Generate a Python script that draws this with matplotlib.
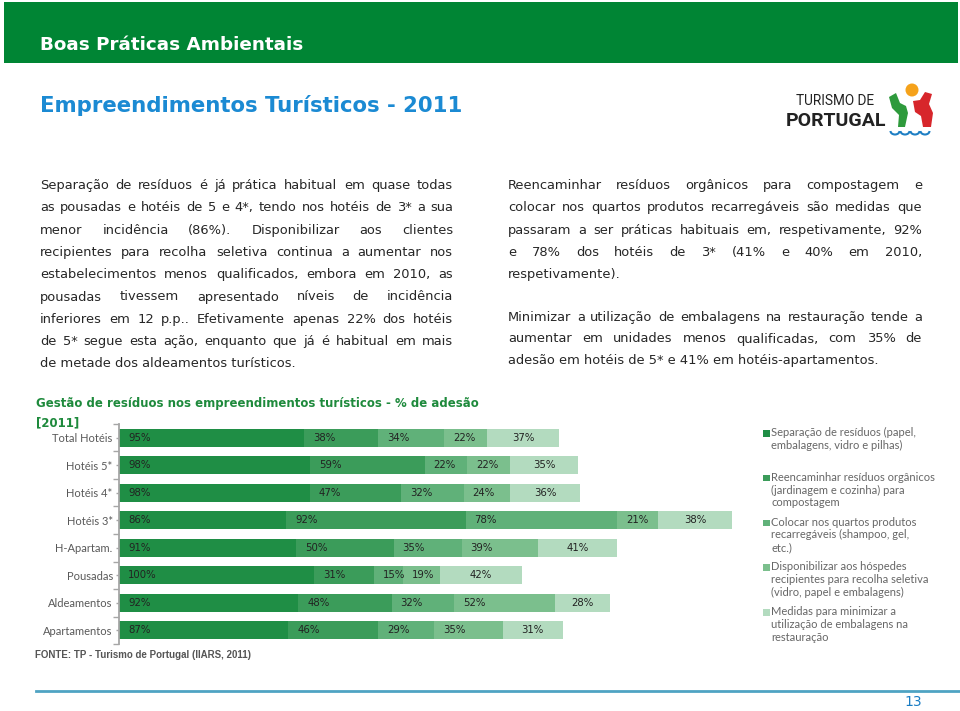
import matplotlib
matplotlib.use("Agg")
import matplotlib.pyplot as plt
import numpy as np
from matplotlib.transforms import Affine2D
from matplotlib.patches import Rectangle, Polygon, Circle, Arc
from matplotlib.lines import Line2D

# dados
categorias = ["Total Hotéis", "Hotéis 5*", "Hotéis 4*", "Hotéis 3*",
              "H-Apartam.", "Pousadas", "Aldeamentos", "Apartamentos"]
separacao = [95, 98, 98, 86, 91, 100, 92, 87]
compostagem = [38, 59, 47, 92, 50, 31, 48, 46]
recarregaveis = [34, 22, 32, 78, 35, 15, 32, 29]
recipientes = [22, 22, 24, 21, 39, 19, 52, 35]
embalagens = [37, 35, 36, 38, 41, 42, 28, 31]

legenda = [
    "Separação de resíduos (papel,\nembalagens, vidro e pilhas)",
    "Reencaminhar resíduos orgânicos\n(jardinagem e cozinha) para\ncompostagem",
    "Colocar nos quartos produtos\nrecarregáveis (shampoo, gel,\netc.)",
    "Disponibilizar aos hóspedes\nrecipientes para recolha seletiva\n(vidro, papel e embalagens)",
    "Medidas para minimizar a\nutilização de embalagens na\nrestauração",
]
cores = ["#1f8e45", "#3b9c5a", "#60b179", "#7bbf8d", "#b3dbbf"]

texto_esq = [
    "Separação de resíduos é já prática habitual em quase todas",
    "as pousadas e hotéis de 5 e 4*, tendo nos hotéis de 3* a sua",
    "menor incidência (86%). Disponibilizar aos clientes",
    "recipientes para recolha seletiva continua a aumentar nos",
    "estabelecimentos menos qualificados, embora em 2010, as",
    "pousadas tivessem apresentado níveis de incidência",
    "inferiores em 12 p.p.. Efetivamente apenas 22% dos hotéis",
    "de 5* segue esta ação, enquanto que já é habitual em mais",
    "de metade dos aldeamentos turísticos.",
]
texto_dir1 = [
    "Reencaminhar resíduos orgânicos para compostagem e",
    "colocar nos quartos produtos recarregáveis são medidas que",
    "passaram a ser práticas habituais em, respetivamente, 92%",
    "e 78% dos hotéis de 3* (41% e 40% em 2010,",
    "respetivamente).",
]
texto_dir2 = [
    "Minimizar a utilização de embalagens na restauração tende a",
    "aumentar em unidades menos qualificadas, com 35% de",
    "adesão em hotéis de 5* e 41% em hotéis-apartamentos.",
]

W, H = 960, 711
fig = plt.figure(figsize=(9.6, 7.11), dpi=100)
pix = Affine2D().scale(1 / W, -1 / H).translate(0, 1) + fig.transFigure


def paragrafo(linhas, x0, x1, y0, passo=22.3, **kw):
    r = fig.canvas.get_renderer()
    for k, linha in enumerate(linhas):
        y = y0 + k * passo
        if k == len(linhas) - 1:
            fig.text(x0, y, linha, transform=pix, va="baseline", **kw)
            continue
        palavras = linha.split()
        arts = [fig.text(x0, y, p, transform=pix, va="baseline", **kw)
                for p in palavras]
        larg = [a.get_window_extent(r).width for a in arts]
        gap = (x1 - x0 - sum(larg)) / (len(palavras) - 1)
        x = x0
        for a, w in zip(arts, larg):
            a.set_x(x)
            x += w + gap


# cabeçalho
fig.add_artist(Rectangle((4, 2), 954, 61, transform=pix,
                         color="#008534", lw=0))
fig.text(40, 45, "Boas Práticas Ambientais", transform=pix, va="center",
         color="white", fontsize=13.2, fontweight="bold")
fig.text(40, 106, "Empreendimentos Turísticos - 2011", transform=pix,
         va="center", color="#1b8ad3", fontsize=15.3, fontweight="bold")

# logotipo
fig.text(796, 101, "TURISMO DE", transform=pix, va="center",
         family="Roboto", fontsize=9.8, color="#222")
fig.text(786, 121, "PORTUGAL", transform=pix, va="center",
         family="Roboto", fontsize=14, fontweight="bold", color="#222")
fig.add_artist(Polygon([(889, 97), (896, 93), (900, 103), (906, 106),
                        (908, 113), (905, 127), (898, 127), (899, 115),
                        (892, 108)], transform=pix, color="#2e9a3c", lw=0))
fig.add_artist(Polygon([(913, 101), (920, 100), (925, 92), (932, 94),
                        (929, 104), (933, 113), (931, 127), (923, 127),
                        (921, 116), (915, 112)], transform=pix,
                       color="#d7262b", lw=0))
fig.add_artist(Circle((912, 90), 6.5, transform=pix, color="#f5a21b", lw=0))
for xc in (895, 905, 915, 925):
    fig.add_artist(Arc((xc, 131), 9, 7, theta1=0, theta2=180,
                       transform=pix, color="#1f7fc4", lw=1.5))

# textos
estilo = dict(fontsize=9.4, color="#262626")
paragrafo(texto_esq, 40, 453, 189, **estilo)
paragrafo(texto_dir1, 508, 922, 189, **estilo)
paragrafo(texto_dir2, 508, 922, 321, passo=21.5, **estilo)

# gráfico
fig.text(36, 397, "Gestão de resíduos nos empreendimentos turísticos - % de adesão\n[2011]",
         transform=pix, va="top", color="#1e8a3c", fontsize=8.5,
         fontweight="bold", linespacing=1.6)

ax = fig.add_axes([119 / W, 1 - 644 / H, 623 / W, 220 / H])
ax.patch.set_alpha(0)
y = np.arange(len(categorias))
series = [separacao, compostagem, recarregaveis, recipientes, embalagens]
esq = np.zeros(len(categorias))
for k, (vals, cor) in enumerate(zip(series, cores)):
    vals = np.array(vals)
    ax.barh(y, vals, left=esq, height=0.66, color=cor, edgecolor="none")
    for i, v in enumerate(vals):
        if k < len(series) - 1:
            ax.annotate(f"{v}%", (esq[i], y[i]), xytext=(6.5, 0),
                        textcoords="offset points", ha="left", va="center",
                        fontsize=7.3, color="#222")
        else:
            ax.text(esq[i] + v / 2, y[i], f"{v}%", ha="center", va="center",
                    fontsize=7.3, color="#222")
    esq += vals

ax.set_xlim(0, 320)
ax.set_ylim(len(categorias) - 0.5, -0.5)
ax.set_xticks([])
ax.set_yticks(y, categorias)
ax.set_yticks(np.arange(-0.5, len(categorias), 1), minor=True)
for lado in ("top", "right", "bottom"):
    ax.spines[lado].set_visible(False)
ax.spines["left"].set_color("#a6a6a6")
ax.spines["left"].set_linewidth(1.3)
ax.tick_params(axis="y", which="major", length=2.5, width=1, color="#a6a6a6",
               pad=2, labelsize=8, labelcolor="#595959")
ax.tick_params(axis="y", which="minor", length=4, width=1, color="#a6a6a6")
for t in ax.get_yticklabels():
    t.set_family("Lato")

# legenda
for k, (lab, cor) in enumerate(zip(legenda, cores)):
    yk = 427 + k * 44.8
    fig.add_artist(Rectangle((763, yk + 3), 6.5, 6.5, transform=pix,
                             color=cor, lw=0))
    fig.text(771, yk, lab, transform=pix, va="top", family="Lato",
             fontsize=8, color="#666", linespacing=1.2)

fig.text(35, 655, "FONTE: TP - Turismo de Portugal (IIARS, 2011)",
         transform=pix, va="center", fontsize=7, fontweight="bold",
         color="#555", family=["Liberation Sans Narrow", "Liberation Sans"])

fig.add_artist(Line2D([36, 960], [691, 691], transform=pix,
                      color="#4fa3c3", lw=2))
fig.text(922, 702, "13", transform=pix, va="center", ha="right",
         fontsize=10, color="#1a7dc4")

fig.savefig("out.png", dpi=100)
